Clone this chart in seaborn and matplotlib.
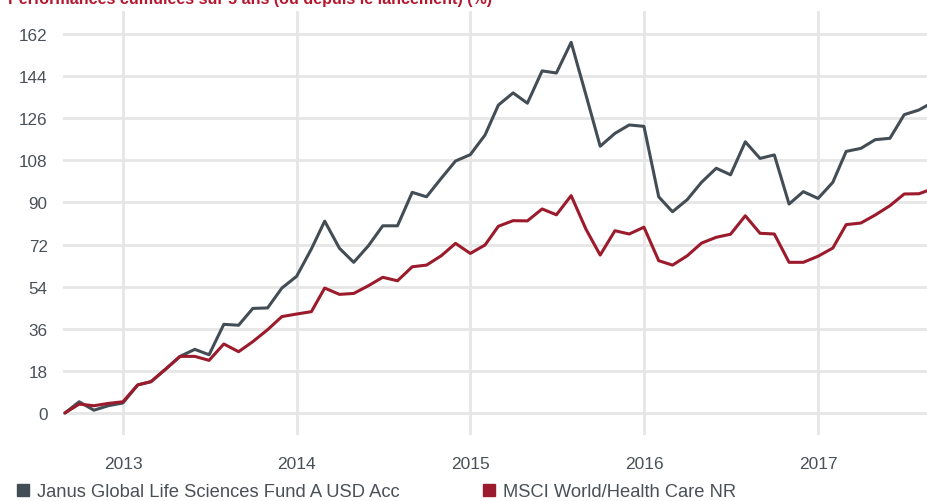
import matplotlib
matplotlib.use("Agg")
import matplotlib.pyplot as plt
import matplotlib.dates as mdates
from matplotlib.lines import Line2D
import numpy as np
import pandas as pd
import seaborn as sns

# ---- data ----
months = pd.date_range("2012-09-01", "2017-09-01", freq="MS")
janus = [0, 4.8, 1.2, 3.1,
         4.3, 12.0, 13.4, 18.8, 24.2, 27.2, 24.9, 37.9, 37.5, 44.7, 44.9, 53.4,
         58.4, 70.1, 82.0, 70.4, 64.4, 71.5, 80.0, 80.0, 94.3, 92.4, 100.3, 107.7,
         110.4, 118.8, 131.6, 136.8, 132.4, 146.2, 145.3, 158.4, 136.0, 114.0, 119.5, 123.1,
         122.5, 92.4, 86.0, 91.2, 98.6, 104.6, 101.8, 115.9, 108.8, 110.3, 89.3, 94.6,
         91.7, 98.6, 111.8, 113.1, 116.8, 117.4, 127.5, 129.5, 133.0]
msci = [0, 3.8, 3.1, 4.1,
        4.8, 12.0, 13.4, 18.8, 24.2, 24.2, 22.5, 29.5, 26.2, 30.5, 35.6, 41.2,
        42.3, 43.3, 53.4, 50.7, 51.1, 54.4, 58.0, 56.5, 62.5, 63.2, 67.2, 72.5,
        68.2, 71.8, 79.8, 82.2, 82.1, 87.2, 84.7, 92.9, 78.6, 67.5, 77.9, 76.5,
        79.4, 65.1, 63.2, 67.2, 72.6, 75.1, 76.4, 84.3, 76.8, 76.5, 64.4, 64.4,
        67.0, 70.5, 80.5, 81.2, 84.6, 88.6, 93.6, 93.7, 96.0]
series_names = ["Janus Global Life Sciences Fund A USD Acc", "MSCI World/Health Care NR"]
y_ticks = [0, 18, 36, 54, 72, 90, 108, 126, 144, 162]
title = "Performances cumulées sur 5 ans (ou depuis le lancement) (%)"

df = pd.concat([
    pd.DataFrame({"date": months, "value": janus, "series": series_names[0]}),
    pd.DataFrame({"date": months, "value": msci, "series": series_names[1]}),
])

colors = {series_names[0]: "#434d55", series_names[1]: "#9b1b2d"}
text_color = "#4a5057"
grid_color = "#e6e6e6"

sns.set_theme(style="white")
plt.rcParams["font.family"] = ["Liberation Sans", "DejaVu Sans"]

fig = plt.figure(figsize=(9.28, 5.02), dpi=100)
ax = fig.add_axes([63 / 928, (502 - 436) / 502, (928 - 63) / 928, 424 / 502])

sns.lineplot(data=df, x="date", y="value", hue="series", palette=colors,
             linewidth=2.2, ax=ax, legend=False, zorder=3)

ax.set_ylim(-9.4, 171.8)
ax.set_xlim(pd.Timestamp("2012-08-28"), pd.Timestamp("2017-08-20"))
ax.set_yticks(y_ticks)
ax.xaxis.set_major_locator(mdates.YearLocator())
ax.xaxis.set_major_formatter(mdates.DateFormatter("%Y"))
ax.set_xlabel("")
ax.set_ylabel("")
for s in ax.spines.values():
    s.set_visible(False)

# horizontal grid lines
for yv in y_ticks:
    ax.axhline(yv, color=grid_color, linewidth=2.0, zorder=1)
# vertical grid lines at years
ax.grid(axis="x", color=grid_color, linewidth=2.0, zorder=1)
ax.grid(axis="y", visible=False)

ax.tick_params(axis="y", length=0, pad=11, labelsize=12.3, labelcolor=text_color)
ax.tick_params(axis="x", length=0, pad=15, labelsize=12.5, labelcolor=text_color)

fig.text(8 / 928, 1 - 4 / 502, title, color="#b5172e", fontsize=11.6,
         fontweight="bold", va="baseline", ha="left")

handles = [Line2D([0], [0], marker="s", linestyle="none", markersize=8.2,
                  markerfacecolor=colors[n], markeredgecolor=colors[n]) for n in series_names]
leg = fig.legend(handles, series_names, loc="center left",
                 bbox_to_anchor=(14.3 / 928, 1 - 493 / 502), ncol=2, frameon=False,
                 fontsize=13.2, handlelength=1.0, handletextpad=0.24,
                 columnspacing=4.4, borderpad=0, borderaxespad=0)
for t in leg.get_texts():
    t.set_color(text_color)

fig.savefig("out.png", dpi=100)
